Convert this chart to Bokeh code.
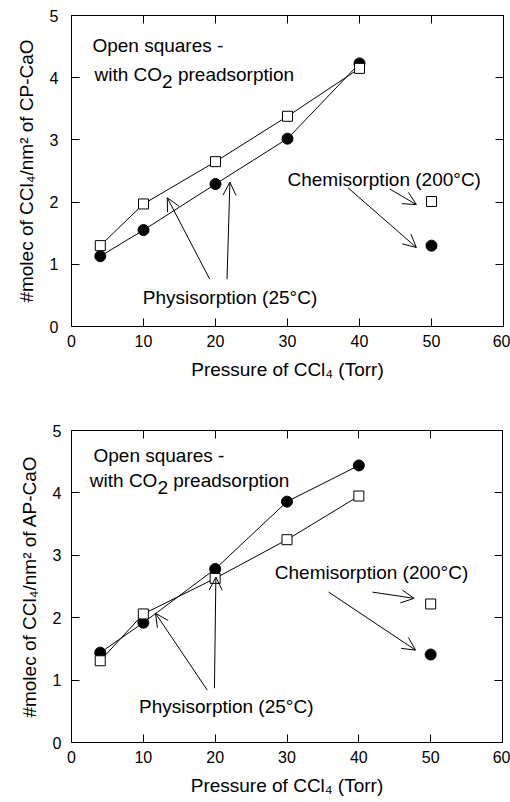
from bokeh.plotting import figure
from bokeh.layouts import column
from bokeh.models import Range1d, FixedTicker, LinearAxis, Arrow, OpenHead, CustomJSTickFormatter
from bokeh.core.properties import value
from bokeh.embed import file_html
from bokeh.resources import INLINE

FONT = "Liberation Sans"

# ---------------- data ----------------
pressure = [4, 10, 20, 30, 40]
chem_pressure = [50]

cp_plain = [1.13, 1.55, 2.29, 3.02, 4.23]
cp_co2 = [1.30, 1.97, 2.65, 3.38, 4.15]
cp_chem_plain = [1.30]
cp_chem_co2 = [2.01]

ap_plain = [1.44, 1.92, 2.78, 3.86, 4.44]
ap_co2 = [1.31, 2.06, 2.63, 3.25, 3.95]
ap_chem_plain = [1.41]
ap_chem_co2 = [2.22]

x_ticks = [0, 10, 20, 30, 40, 50, 60]
y_ticks = [0, 1, 2, 3, 4, 5]

x_title = "Pressure of CCl\u2084 (Torr)"
cp_y_title = "#molec of CCl\u2084/nm\u00b2 of CP-CaO"
ap_y_title = "#molec of CCl\u2084/nm\u00b2 of AP-CaO"

note_open = "Open squares -"
note_with = ["with CO", "2", "preadsorption"]
note_chem = "Chemisorption (200\u00b0C)"
note_phys = "Physisorption (25\u00b0C)"

# annotation anchors (data coords): open-squares line, with-CO2 line, chem, phys
cp_note_x = [2.9, 3.2, 30.0, 9.9]
cp_note_y = [4.52, 4.05, 2.36, 0.47]
ap_note_x = [3.06, 2.55, 28.3, 9.4]
ap_note_y = [4.60, 4.20, 2.72, 0.58]

# arrows: x_start, y_start, x_end, y_end
cp_arrow_x0 = [44.2, 38.4, 19.2, 21.6]
cp_arrow_y0 = [2.21, 2.23, 0.76, 0.76]
cp_arrow_x1 = [47.9, 47.9, 13.3, 22.0]
cp_arrow_y1 = [1.96, 1.27, 2.07, 2.32]

ap_arrow_x0 = [41.9, 35.8, 18.9, 19.9]
ap_arrow_y0 = [2.41, 2.41, 0.84, 0.87]
ap_arrow_x1 = [47.7, 47.9, 11.7, 20.1]
ap_arrow_y1 = [2.31, 1.48, 2.07, 2.65]

FS = 19  # annotation font px


def panel(plain, co2, chem_plain, chem_co2, y_title, nx, ny, ax0, ay0, ax1, ay1,
          fw, fh, bl, br, bt, bb, ylab_stand, ytick_stand):
    p = figure(frame_width=fw, frame_height=fh, output_backend="svg", toolbar_location=None,
               x_range=Range1d(0, 60), y_range=Range1d(0, 5),
               min_border_left=bl, min_border_right=br, min_border_top=bt, min_border_bottom=bb,
               background_fill_color="white", border_fill_color="white")
    p.grid.visible = False
    p.outline_line_color = "black"
    p.outline_line_width = 1

    p.xaxis.ticker = FixedTicker(ticks=x_ticks)
    p.yaxis.ticker = FixedTicker(ticks=y_ticks)
    p.xaxis.axis_label = x_title
    p.yaxis.axis_label = y_title
    for ax in (p.xaxis[0], p.yaxis[0]):
        ax.major_tick_in = 8
        ax.major_tick_out = 0
        ax.minor_tick_line_color = None
        ax.axis_line_color = "black"
        ax.major_tick_line_color = "black"
        ax.major_label_text_font = FONT
        ax.major_label_text_font_size = "16px"
        ax.major_label_text_color = "black"
        ax.axis_label_text_font = FONT
        ax.axis_label_text_font_size = "19px"
        ax.axis_label_text_font_style = "normal"
        ax.axis_label_text_color = "black"
    p.xaxis.major_label_standoff = 8
    p.xaxis.axis_label_standoff = 9
    p.yaxis.major_label_standoff = ytick_stand
    p.yaxis.axis_label_standoff = ylab_stand

    blank = CustomJSTickFormatter(code="return ''")
    top = LinearAxis(ticker=FixedTicker(ticks=x_ticks), formatter=blank,
                     major_tick_in=8, major_tick_out=0, minor_tick_line_color=None,
                     major_label_standoff=0)
    right = LinearAxis(ticker=FixedTicker(ticks=y_ticks), formatter=blank,
                       major_tick_in=8, major_tick_out=0, minor_tick_line_color=None,
                       major_label_standoff=0)
    p.add_layout(top, "above")
    p.add_layout(right, "right")

    # series
    p.line(pressure, plain, line_color="black", line_width=1)
    p.line(pressure, co2, line_color="black", line_width=1)
    p.scatter(pressure, plain, marker="circle", size=11, fill_color="black", line_color="black")
    p.scatter(pressure, co2, marker="square", size=10, fill_color="white", line_color="black", line_width=1)
    p.scatter(chem_pressure, chem_plain, marker="circle", size=11, fill_color="black", line_color="black")
    p.scatter(chem_pressure, chem_co2, marker="square", size=10, fill_color="white", line_color="black", line_width=1)

    # arrows
    for i in range(len(ax0)):
        p.add_layout(Arrow(x_start=ax0[i], y_start=ay0[i], x_end=ax1[i], y_end=ay1[i],
                           line_color="black", line_width=1,
                           end=OpenHead(size=13, line_color="black", line_width=1)))

    # texts
    common = dict(text_font=value(FONT), text_font_size=f"{FS}px", text_color="black",
                  text_baseline="middle", text_align="left")
    p.text(x=[nx[0], nx[2], nx[3]], y=[ny[0], ny[2], ny[3]],
           text=[note_open, note_chem, note_phys], **common)
    w_with = 3.556 * FS
    w_two = 0.556 * FS
    w_space = 0.278 * FS
    p.text(x=[nx[1], nx[1], nx[1]], y=[ny[1]] * 3, text=note_with,
           x_offset=[0, w_with, w_with + w_two + w_space], y_offset=[0, 7, 0], **common)
    return p


p1 = panel(cp_plain, cp_co2, cp_chem_plain, cp_chem_co2, cp_y_title, cp_note_x, cp_note_y,
           cp_arrow_x0, cp_arrow_y0, cp_arrow_x1, cp_arrow_y1,
           432, 311, 67, 11, 15, 75, 10, 13)
p2 = panel(ap_plain, ap_co2, ap_chem_plain, ap_chem_co2, ap_y_title, ap_note_x, ap_note_y,
           ap_arrow_x0, ap_arrow_y0, ap_arrow_x1, ap_arrow_y1,
           431, 312, 71, 8, 29, 60, 10, 10)

layout = column(p1, p2, spacing=0)
open("out.html", "w").write(file_html(layout, INLINE))
